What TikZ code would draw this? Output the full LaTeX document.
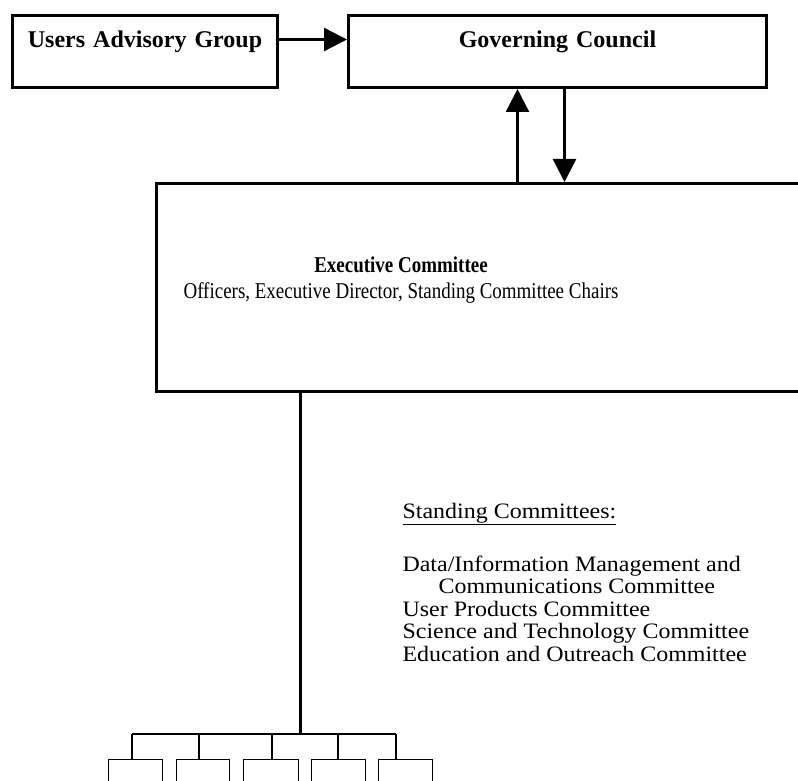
\documentclass[tikz,border=0pt]{standalone}
\usepackage{fontspec}
\setmainfont{Liberation Serif}
\newfontfamily\narrowserif[FakeStretch=0.84]{Liberation Serif}
\newfontfamily\wideserif[FakeStretch=1.09]{Liberation Serif}
\usetikzlibrary{arrows.meta}

\newcommand\bodysize{\fontsize{24}{27}\selectfont}

\tikzset{
  topbox/.style={draw, line width=3pt, inner sep=0pt, text height=32pt,
    text depth=40pt, align=center, anchor=north west,
    font=\bodysize\bfseries},
  execbox/.style={draw, line width=3pt, inner sep=0pt, anchor=north west},
  subbox/.style={draw, line width=1.3pt, inner sep=0pt, anchor=north west,
    minimum height=60pt},
  flow/.style={line width=2.3pt, -{Triangle[length=23pt, width=23pt]}},
  trunk/.style={line width=3pt},
  branch/.style={line width=1.3pt}
}

\begin{document}
\begin{tikzpicture}[x=1pt, y=-1pt]

  \useasboundingbox (0,0) rectangle (798,781);
  \clip (0,0) rectangle (798,781);

  %% top row
  \node[topbox, text width=265pt] (uag) at (11,14) {Users Advisory Group};
  \node[topbox, text width=418pt] (gc) at (347,14) {Governing Council};

  %% executive committee (runs off the right edge)
  \node[execbox, minimum width=700pt, minimum height=208pt] (exec) at (155,182) {};
  \node[align=center, anchor=base, font=\narrowserif\fontsize{22.6}{26}\selectfont]
    (execlbl) at (401,298)
    {\textbf{Executive Committee}\\Officers, Executive Director, Standing Committee Chairs};

  \draw[flow] ([yshift=12pt]uag.east) -- ([yshift=12pt]gc.west); % UAG->GC
  \draw[flow] ([xshift=-40pt]gc.south |- exec.north) -- ([xshift=-40pt]gc.south); % exec->GC
  \draw[flow] ([xshift=7pt]gc.south) -- ([xshift=7pt]gc.south |- exec.north); % GC->exec

  %% standing committees (anchored on the last line)
  \node[align=left, anchor=base west, font=\wideserif\fontsize{22}{22.5}\selectfont]
    (standing) at (399,661)
    {\underline{Standing Committees:}\\[30.5pt]
     Data/Information Management and\\
     \hspace*{36pt}Communications Committee\\
     User Products Committee\\
     Science and Technology Committee\\
     Education and Outreach Committee};

  %% trunk down to the committee boxes
  \coordinate (hub) at (300,734);
  \draw[trunk] (hub |- exec.south) -- (hub);

  \foreach \i/\l/\r/\t in {1/108/162/132, 2/176/229/199, 3/243/298/272,
                           4/311/365/338, 5/378/432/396}{
    \node[subbox, minimum width={\r-\l}] (sub\i) at (\l,759) {};
    \coordinate (tap\i) at (\t,734);
    \draw[branch] (tap\i) -- (tap\i |- sub\i.north);
  }
  \draw[branch] (tap1) -- (tap5);

\end{tikzpicture}
\end{document}
